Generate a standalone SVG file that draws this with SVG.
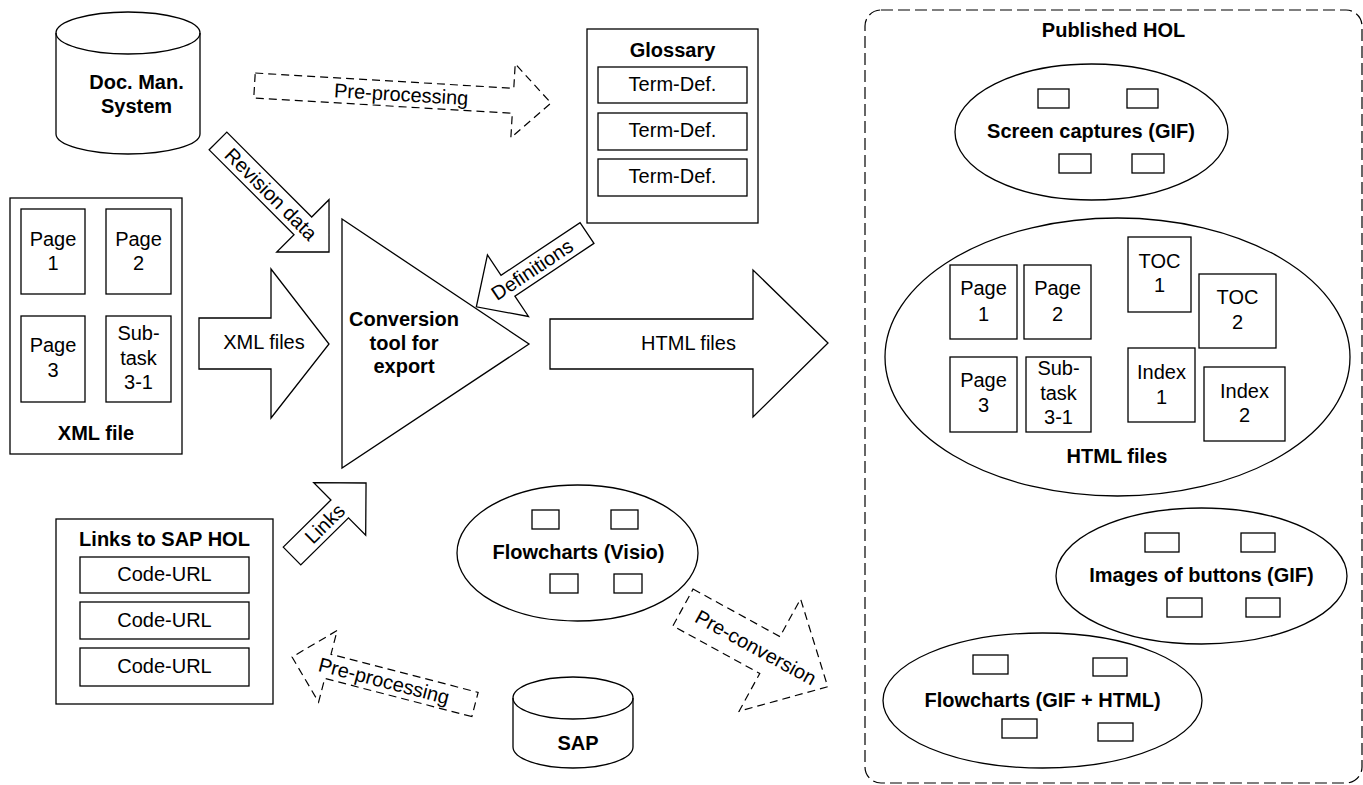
<svg xmlns="http://www.w3.org/2000/svg" width="1363" height="785" viewBox="0 0 1363 785">
<style>
.s{fill:#fff;stroke:#000;stroke-width:1.3}
.n{fill:none;stroke:#000;stroke-width:1.3}
.d{fill:#fff;stroke:#000;stroke-width:1.2;stroke-dasharray:8 5}
.t{font-family:"Liberation Sans",Arial,sans-serif;font-size:20px;text-anchor:middle;fill:#000}
.b{font-weight:bold}
</style>
<rect width="1363" height="785" fill="#fff"/>
<g id="published-hol">
<rect x="865" y="10" width="497" height="773" rx="16" ry="16" fill="none" stroke="#000" stroke-width="1.2" stroke-dasharray="12 5"/>
<text class="t b" x="1113.5" y="37">Published HOL</text>
</g>
<g id="doc-man-system">
<path class="s" d="M56,33 A72,21 0 0 1 200,33 L200,134 A72,20 0 0 1 56,134 Z"/>
<path class="n" d="M56,33 A72,21 0 0 0 200,33"/>
<text class="t b" x="136.5" y="89">Doc. Man.</text>
<text class="t b" x="136.5" y="113">System</text>
</g>
<g id="glossary">
<rect class="s" x="587" y="29" width="171" height="194"/>
<text class="t b" x="672.5" y="57">Glossary</text>
<rect class="s" x="598" y="67" width="149" height="36"/>
<text class="t" x="672.5" y="91">Term-Def.</text>
<rect class="s" x="598" y="113" width="149" height="37"/>
<text class="t" x="672.5" y="137">Term-Def.</text>
<rect class="s" x="598" y="159" width="149" height="37"/>
<text class="t" x="672.5" y="183">Term-Def.</text>
</g>
<g id="xml-file">
<rect class="s" x="10" y="198" width="172" height="256"/>
<rect class="s" x="21" y="209" width="64" height="85"/>
<text class="t" x="53" y="246">Page</text>
<text class="t" x="53" y="270">1</text>
<rect class="s" x="106" y="209" width="65" height="85"/>
<text class="t" x="138.5" y="246">Page</text>
<text class="t" x="138.5" y="270">2</text>
<rect class="s" x="21" y="316" width="64" height="86"/>
<text class="t" x="53" y="352">Page</text>
<text class="t" x="53" y="377">3</text>
<rect class="s" x="106" y="316" width="65" height="86"/>
<text class="t" x="138.5" y="340">Sub-</text>
<text class="t" x="138.5" y="365">task</text>
<text class="t" x="138.5" y="389">3-1</text>
<text class="t b" x="96" y="440">XML file</text>
</g>
<g id="conversion-tool">
<path class="s" d="M342,219 L529,344 L342,468 Z"/>
<text class="t b" x="404" y="326">Conversion</text>
<text class="t b" x="404" y="350">tool for</text>
<text class="t b" x="404" y="373">export</text>
</g>
<g id="links-to-sap-hol">
<rect class="s" x="56" y="519" width="217" height="185"/>
<text class="t b" x="164.5" y="546">Links to SAP HOL</text>
<rect class="s" x="80" y="557" width="169" height="36"/>
<text class="t" x="164.5" y="581">Code-URL</text>
<rect class="s" x="80" y="602" width="169" height="37"/>
<text class="t" x="164.5" y="627">Code-URL</text>
<rect class="s" x="80" y="648" width="169" height="38"/>
<text class="t" x="164.5" y="673">Code-URL</text>
</g>
<g id="flowcharts-visio">
<ellipse class="s" cx="577.5" cy="553" rx="120.5" ry="68"/>
<rect class="s" x="532" y="510" width="27" height="19"/>
<rect class="s" x="611" y="510" width="27" height="19"/>
<rect class="s" x="550" y="574" width="28" height="19"/>
<rect class="s" x="614" y="574" width="28" height="19"/>
<text class="t b" x="578.5" y="559">Flowcharts (Visio)</text>
</g>
<g id="sap">
<path class="s" d="M513,698 A60,21 0 0 1 633,698 L633,747 A60,21 0 0 1 513,747 Z"/>
<path class="n" d="M513,698 A60,21 0 0 0 633,698"/>
<text class="t b" x="578" y="750">SAP</text>
</g>
<g id="screen-captures">
<ellipse class="s" cx="1091.5" cy="132" rx="136.5" ry="68"/>
<rect class="s" x="1038" y="89" width="31" height="19"/>
<rect class="s" x="1127" y="89" width="31" height="19"/>
<rect class="s" x="1059" y="154" width="32" height="19"/>
<rect class="s" x="1132" y="154" width="32" height="19"/>
<text class="t b" x="1091" y="138">Screen captures (GIF)</text>
</g>
<g id="html-files">
<ellipse class="s" cx="1117.5" cy="357" rx="232.5" ry="139"/>
<rect class="s" x="950" y="265" width="67" height="74"/>
<text class="t" x="983.5" y="295">Page</text>
<text class="t" x="983.5" y="321">1</text>
<rect class="s" x="1024" y="265" width="67" height="74"/>
<text class="t" x="1057.5" y="295">Page</text>
<text class="t" x="1057.5" y="321">2</text>
<rect class="s" x="950" y="357" width="67" height="75"/>
<text class="t" x="983.5" y="387">Page</text>
<text class="t" x="983.5" y="412">3</text>
<rect class="s" x="1026" y="357" width="65" height="75"/>
<text class="t" x="1058.5" y="375">Sub-</text>
<text class="t" x="1058.5" y="400">task</text>
<text class="t" x="1058.5" y="424">3-1</text>
<rect class="s" x="1128" y="237" width="63" height="75"/>
<text class="t" x="1159.5" y="268">TOC</text>
<text class="t" x="1159.5" y="292">1</text>
<rect class="s" x="1199" y="274" width="77" height="74"/>
<text class="t" x="1237.5" y="304">TOC</text>
<text class="t" x="1237.5" y="329">2</text>
<rect class="s" x="1128" y="348" width="67" height="74"/>
<text class="t" x="1161.5" y="379">Index</text>
<text class="t" x="1161.5" y="404">1</text>
<rect class="s" x="1204" y="367" width="81" height="74"/>
<text class="t" x="1244.5" y="398">Index</text>
<text class="t" x="1244.5" y="422">2</text>
<text class="t b" x="1117" y="463">HTML files</text>
</g>
<g id="images-of-buttons">
<ellipse class="s" cx="1201.5" cy="576" rx="145.5" ry="68"/>
<rect class="s" x="1145" y="533" width="34" height="19"/>
<rect class="s" x="1241" y="533" width="34" height="19"/>
<rect class="s" x="1167" y="598" width="35" height="19"/>
<rect class="s" x="1246" y="598" width="34" height="19"/>
<text class="t b" x="1201.5" y="582">Images of buttons (GIF)</text>
</g>
<g id="flowcharts-gif-html">
<ellipse class="s" cx="1042.5" cy="700.5" rx="159.5" ry="67.5"/>
<rect class="s" x="973" y="655" width="35" height="19"/>
<rect class="s" x="1093" y="658" width="34" height="18"/>
<rect class="s" x="1002" y="719" width="35" height="19"/>
<rect class="s" x="1098" y="723" width="35" height="18"/>
<text class="t b" x="1042.5" y="707">Flowcharts (GIF + HTML)</text>
</g>
<g id="connectors">
<g transform="translate(254.5,85.5) rotate(3.38)">
<path class="d" d="M0,-12.5 L259,-12.5 L259,-37 L297,0 L259,37 L259,12.5 L0,12.5 Z"/>
<text class="t" x="147" y="7">Pre-processing</text>
</g>
<g transform="translate(218,141) rotate(45)">
<path class="s" d="M0,-12.5 L120,-12.5 L120,-37 L157,0 L120,37 L120,12.5 L0,12.5 Z"/>
<text class="t" x="75" y="7">Revision data</text>
</g>
<g transform="translate(587,233) rotate(146.3)">
<path class="s" d="M0,-12.5 L95,-12.5 L95,-37 L133,0 L95,37 L95,12.5 L0,12.5 Z"/>
<text class="t" x="66" y="7" transform="rotate(180 66 0)">Definitions</text>
</g>
<g transform="translate(292,556) rotate(-44.6)">
<path class="s" d="M0,-12.5 L67,-12.5 L67,-37 L104,0 L67,37 L67,12.5 L0,12.5 Z"/>
<text class="t" x="46" y="7">Links</text>
</g>
<g transform="translate(475,704.5) rotate(194.55)">
<path class="d" d="M0,-12.5 L152,-12.5 L152,-37 L189,0 L152,37 L152,12.5 L0,12.5 Z"/>
<text class="t" x="94" y="7" transform="rotate(180 94 0)">Pre-processing</text>
</g>
<g transform="translate(683,607.5) rotate(28.7)">
<path class="d" d="M0,-21 L99,-21 L99,-64 L165,0 L99,64 L99,21 L0,21 Z"/>
<text class="t" x="83" y="7">Pre-conversion</text>
</g>
<path class="s" d="M199,318 L271,318 L271,269 L329,344 L271,418 L271,369 L199,369 Z"/>
<text class="t" x="264" y="349">XML files</text>
<path class="s" d="M550,319 L753,319 L753,270 L828,343 L753,417 L753,369 L550,369 Z"/>
<text class="t" x="688.5" y="350">HTML files</text>
</g>
</svg>
